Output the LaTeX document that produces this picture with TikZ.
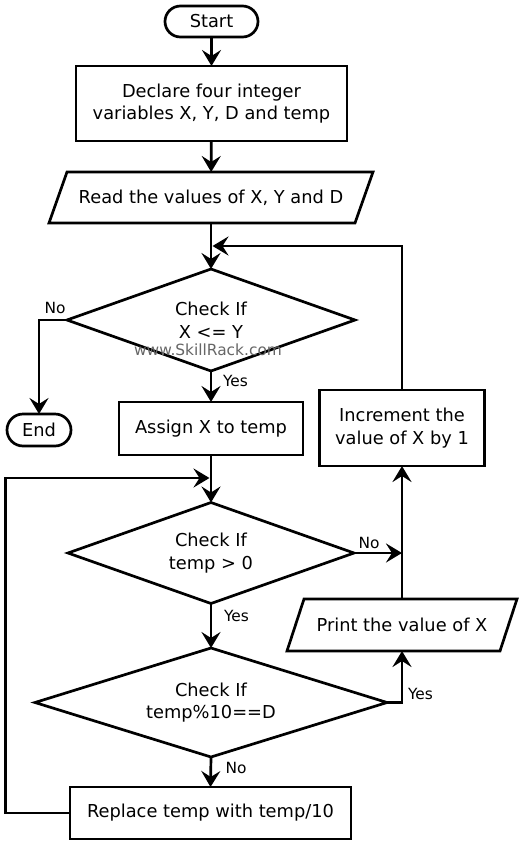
\documentclass[tikz,border=0pt]{standalone}
\usepackage{fontspec}
\setmainfont{DejaVu Sans}
\usetikzlibrary{shapes.geometric,arrows.meta,calc}
\tikzset{
  base/.style={font=\fontsize{17.8}{22.6}\selectfont, align=center, inner sep=0pt, outer sep=0pt, line width=2.7pt},
  term/.style={base, draw, rectangle, rounded corners=15.5pt},
  procbox/.style={base, draw, rectangle},
  iobox/.style={base, rectangle},
  decision/.style={base, draw, diamond},
  lbl/.style={font=\fontsize{15.4}{18}\selectfont, inner sep=0pt},
  arr/.style={line width=2.7pt, -{Stealth[length=16pt,width=19pt,inset=6pt]}}
}
\begin{document}
\begin{tikzpicture}[x=1pt,y=-1pt]
\useasboundingbox (0,0) rectangle (524,847);
% nodes
\node[term, minimum width=93pt, minimum height=31pt] (start) at (211.5,21.5) {Start};
\node[procbox, minimum width=271pt, minimum height=75pt] (decl) at (211.5,103.5) {Declare four integer\\variables X, Y, D and temp};
\node[iobox, minimum width=306pt, minimum height=51pt] (read) at (211,197.5) {Read the values of X, Y and D};
\draw[line width=2.7pt, line join=miter] ([xshift=9pt]read.north west) -- ([xshift=9pt]read.north east) -- ([xshift=-9pt]read.south east) -- ([xshift=-9pt]read.south west) -- cycle;
\node[decision, minimum width=288pt, minimum height=102pt, aspect=2.8] (d1) at (211,320) {Check If\\X <= Y};
\node[font=\fontsize{15.4}{18}\selectfont, text=black!60, inner sep=0pt] (wm) at (208,350) {www.SkillRack.com};
\node[term, minimum width=64pt, minimum height=32pt, rounded corners=16pt] (end) at (39,430) {End};
\node[procbox, minimum width=184pt, minimum height=53pt] (assign) at (211,428.5) {Assign X to temp};
\node[procbox, minimum width=165pt, minimum height=76pt] (inc) at (402,428) {Increment the\\value of X by 1};
\node[decision, minimum width=286pt, minimum height=101pt, aspect=2.8] (d2) at (211,553) {Check If\\temp > 0};
\node[iobox, minimum width=213pt, minimum height=52pt] (print) at (402,625) {Print the value of X};
\draw[line width=2.7pt, line join=miter] ([xshift=8.5pt]print.north west) -- ([xshift=8.5pt]print.north east) -- ([xshift=-8.5pt]print.south east) -- ([xshift=-8.5pt]print.south west) -- cycle;
\node[decision, minimum width=352pt, minimum height=109pt, aspect=3.2] (d3) at (211,702.5) {Check If\\temp\%10==D};
\node[procbox, minimum width=281pt, minimum height=52pt] (rep) at (210.5,813) {Replace temp with temp/10};
% junctions
\coordinate (j1) at (212.5,246);
\coordinate (j2) at (209.5,478);
% connectors
\draw[arr] (start) -- (decl);
\draw[arr] (decl) -- (read);
\draw[arr] (read.south) -- (d1.north);
\draw[arr] (d1.west) -| (end.north);
\draw[arr] (d1.south) -- (assign.north);
\draw[arr] (assign.south) -- (d2.north);
\draw[arr] (d2.south) -- (d3.north);
\draw[arr] (d3.south) -- (rep.north);
\draw[arr] (d3.east) -| (print.south);
\draw[arr] (print.north) -- (inc.south);
\draw[arr] (d2.east) -- (d2.east -| inc.south);
\draw[arr] (inc.north) |- (j1);
\draw[arr] (rep.west) -- ++(-64.5,0) |- (j2);
% labels
\node[lbl] (l1) at (55,308) {No};
\node[lbl] (l2) at (235.5,381) {Yes};
\node[lbl] (l3) at (369,543) {No};
\node[lbl] (l4) at (236.5,616) {Yes};
\node[lbl] (l5) at (420.5,694) {Yes};
\node[lbl] (l6) at (236,768) {No};
\end{tikzpicture}
\end{document}
